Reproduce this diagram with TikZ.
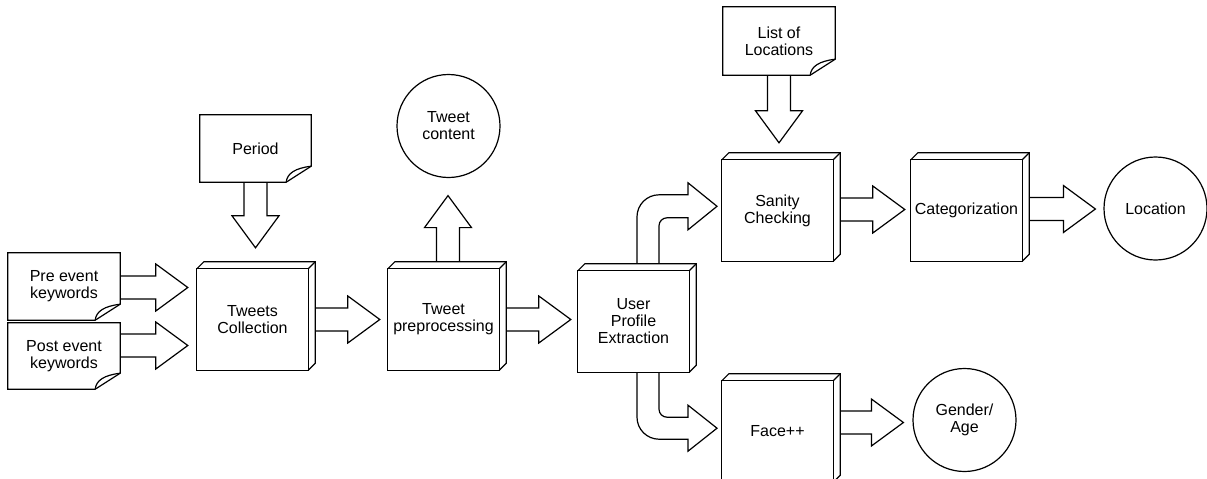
\documentclass[tikz,border=0pt]{standalone}
\usepackage{fontspec}
\setmainfont{Liberation Sans}
\usetikzlibrary{calc}
\tikzset{
  lw/.style={line width=1.2pt, line join=miter},
  cubebox/.style={minimum width=111pt, minimum height=101pt, inner sep=0pt, align=center},
  notebox/.style={minimum width=112pt, minimum height=67pt, inner sep=0pt, align=center},
  circbox/.style={circle, draw, lw, minimum size=103pt, inner sep=0pt, align=center},
  blk/.style={lw, fill=white},
}
\newcommand\cubeframe[1]{%
  \draw[lw] (#1.north west) rectangle (#1.south east);
  \draw[lw] (#1.north west) -- ++(7,-7) -- ($(#1.north east)+(7,-7)$) -- ($(#1.south east)+(7,-7)$) -- (#1.south east);
  \draw[lw] (#1.north east) -- ++(7,-7);
}
\newcommand\noteframe[1]{%
  \draw[lw] (#1.north west) -- (#1.north east) -- ($(#1.south east)+(0,-16)$) -- ($(#1.south east)+(-25,0)$) -- (#1.south west) -- cycle;
  \draw[lw] ($(#1.south east)+(-25,0)$) .. controls ($(#1.south east)+(-24,-9)$) and ($(#1.south east)+(-16,-14)$) .. ($(#1.south east)+(0,-16)$);
}
\newcommand\blkarrow[2]{% #1 start, #2 tip
  \coordinate (ba-hb) at ($(#2)!32pt!(#1)$);
  \draw[blk] ($(#1)!11.5pt!90:(#2)$) -- ($(ba-hb)!11.5pt!90:(#2)$) -- ($(ba-hb)!23.5pt!90:(#2)$) -- (#2)
    -- ($(ba-hb)!23.5pt!-90:(#2)$) -- ($(ba-hb)!11.5pt!-90:(#2)$) -- ($(#1)!11.5pt!-90:(#2)$);
}
\begin{document}
\begin{tikzpicture}[x=1pt,y=-1pt,font=\fontsize{16}{17}\selectfont]
\useasboundingbox (0,0) rectangle (1207,479);
\clip (0,0) rectangle (1207,479);

% notes
\node[notebox] (pre) at (64,286.5) {Pre event\\keywords};
\node[notebox, minimum height=66pt] (post) at (64,356) {Post event\\keywords};
\node[notebox, minimum width=111pt] (period) at (255.5,148.5) {Period};
\node[notebox, minimum height=68pt] (lol) at (779,41) {List of\\Locations};

% cube boxes
\node[cubebox] (tc) at (252.5,319.5) {Tweets\\Collection};
\node[cubebox] (tp) at (443.5,319.5) {Tweet\\preprocessing};
\node[cubebox] (upe) at (633.5,321.5) {User\\Profile\\Extraction};
\node[cubebox] (sc) at (777.5,210.5) {Sanity\\Checking};
\node[cubebox] (cat) at (966.5,210.5) {Categorization};
\node[cubebox] (face) at (777.5,431.5) {Face++};

% circles
\node[circbox] (tcont) at (448.5,126) {Tweet\\content};
\node[circbox] (loc) at (1155.5,208.5) {Location};
\node[circbox] (ga) at (964.5,420) {Gender/\\Age};

% straight block arrows
\coordinate (s1) at ($(pre.east)+(0,1)$);
\coordinate (t1) at ([xshift=-9pt]tc.west |- s1);
\blkarrow{s1}{t1}
\coordinate (s2) at ($(post.east)+(0,-10.5)$);
\coordinate (t2) at ([xshift=-9pt]tc.west |- s2);
\blkarrow{s2}{t2}
\coordinate (s3) at (period.south);
\coordinate (t3) at ($(period.south |- tc.north)+(0,-21)$);
\blkarrow{s3}{t3}
\coordinate (s4) at ($(tc.east)+(7,0)$);
\coordinate (t4) at ([xshift=-8pt]tp.west);
\blkarrow{s4}{t4}
\coordinate (s5) at ($(tp.north)+(4.5,-7)$);
\coordinate (t5) at ($(s5 |- tcont.south)+(0,17.5)$);
\blkarrow{s5}{t5}
\coordinate (s6) at ($(tp.east)+(7,0)$);
\coordinate (t6) at ([xshift=-7pt]upe.west |- s6);
\blkarrow{s6}{t6}
\coordinate (s7) at (lol.south);
\coordinate (t7) at ($(lol.south |- sc.north)+(0,-17)$);
\blkarrow{s7}{t7}
\coordinate (s8) at ($(sc.east)+(7,-1)$);
\coordinate (t8) at ([xshift=-6pt]cat.west |- s8);
\blkarrow{s8}{t8}
\coordinate (s9) at ($(cat.east)+(7,-1.5)$);
\coordinate (t9) at ([xshift=-8pt]loc.west |- s9);
\blkarrow{s9}{t9}
\coordinate (s10) at ($(face.east)+(7,-9)$);
\coordinate (t10) at ([xshift=-9pt]ga.west |- s10);
\blkarrow{s10}{t10}

% curved block arrows from User Profile Extraction
\coordinate (cu) at ($(upe.north)+(14.5,-7)$);
\begin{scope}[shift={(cu)}]
  \draw[blk] (-11,0) -- (-11,-47) .. controls (-11,-59.1) and (-1.1,-69) .. (11,-69) -- (40,-69) -- (40,-81) -- (69,-57.5)
    -- (40,-34) -- (40,-46) -- (19,-46) .. controls (14.6,-46) and (11,-42.4) .. (11,-38) -- (11,0);
\end{scope}
\coordinate (cd) at ($(upe.south)+(14.5,0)$);
\begin{scope}[shift={(cd)}]
  \draw[blk] (-11,0) -- (-11,45) .. controls (-11,57.1) and (-1.1,67) .. (11,67) -- (40,67) -- (40,79) -- (69,56)
    -- (40,33) -- (40,45) -- (19,45) .. controls (14.6,45) and (11,41.4) .. (11,37) -- (11,0);
\end{scope}

% frames drawn last so box edges stay visible under arrow ends
\noteframe{pre}
\noteframe{post}
\noteframe{period}
\noteframe{lol}
\cubeframe{tc}
\cubeframe{tp}
\cubeframe{upe}
\cubeframe{sc}
\cubeframe{cat}
\cubeframe{face}
\end{tikzpicture}
\end{document}
